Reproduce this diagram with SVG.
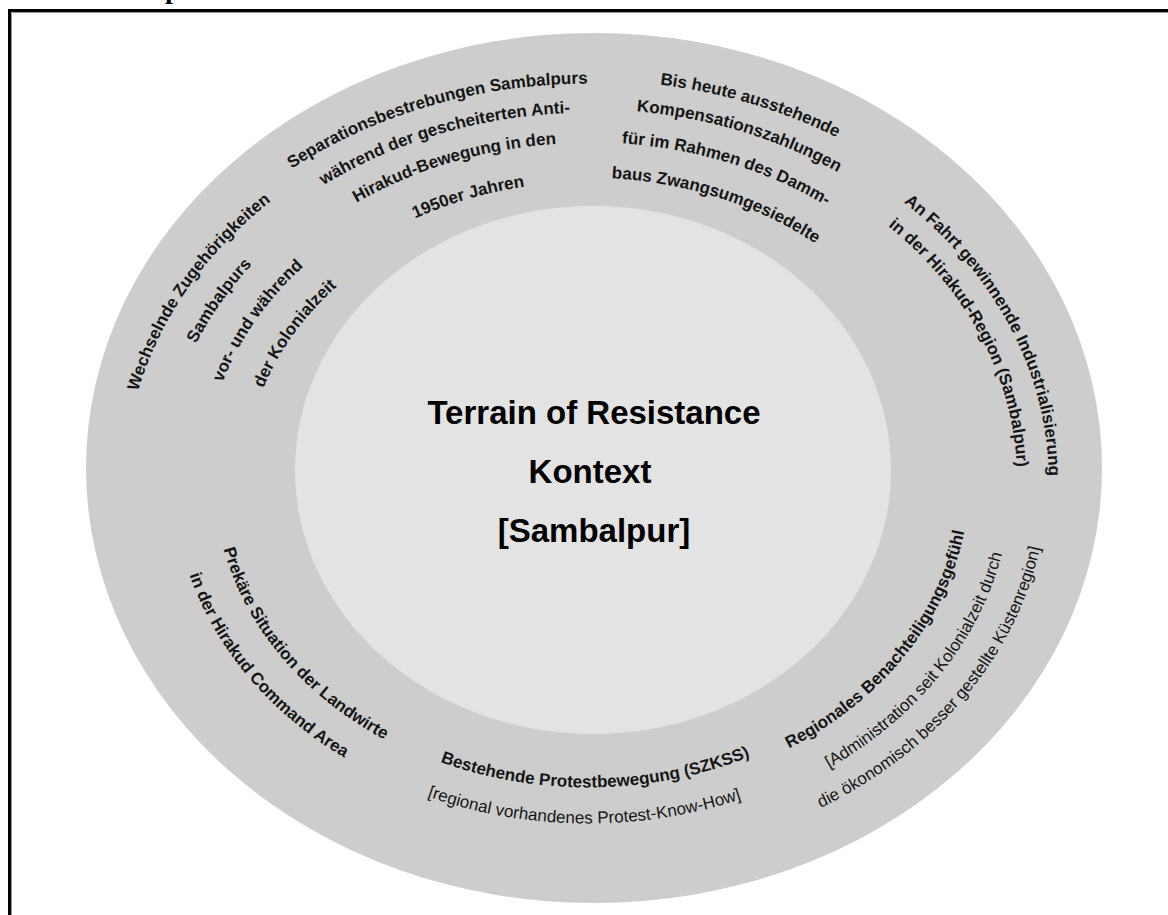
<svg xmlns="http://www.w3.org/2000/svg" width="1168" height="915" viewBox="0 0 1168 915">
<style>
.b{font-family:"Liberation Sans",Arial,sans-serif;font-weight:bold;font-size:17px;fill:#151515}
.r{font-family:"Liberation Sans",Arial,sans-serif;font-size:17px;fill:#151515}
.t{font-family:"Liberation Sans",Arial,sans-serif;font-weight:bold;font-size:33px;fill:#000;text-anchor:middle}
text.c{text-anchor:middle}
</style>
<defs>
<pattern id="dots" width="2" height="2" patternUnits="userSpaceOnUse">
<rect width="2" height="2" fill="#e9e9e9"/><rect width="1" height="1" fill="#dddddd"/><rect x="1" y="1" width="1" height="1" fill="#dddddd"/>
</pattern>
<path id="a1" d="M127.4,447.3 A462.3,382.9 0 0 1 318.2,169.1"/>
<path id="a2" d="M176.6,391.9 A425,351.9 0 0 1 290.1,229"/>
<path id="a3" d="M208.9,429.2 A384,318 0 0 1 341.7,236"/>
<path id="a4" d="M249.4,434.6 A343,284.1 0 0 1 375.4,257"/>
<path id="b1" d="M240.8,207.1 A478.7,396.4 0 0 1 651.3,87.1"/>
<path id="b2" d="M273.4,221.3 A443.4,367.2 0 0 1 632,114.6"/>
<path id="b3" d="M307.8,235.5 A407,337.1 0 0 1 615,143.6"/>
<path id="b4" d="M372.4,241.3 A359.9,298.1 0 0 1 572.9,182.2"/>
<path id="c1" d="M595.6,80.2 A482.8,399.8 0 0 1 892.5,169.8"/>
<path id="c2" d="M577.8,109.1 A448,371 0 0 1 887.2,203.9"/>
<path id="c3" d="M568.1,142.5 A408.1,337.9 0 0 1 870.5,236.1"/>
<path id="c4" d="M563.8,178.4 A365.1,302.3 0 0 1 853.7,272.7"/>
<path id="d1" d="M858.2,171.2 A460.8,381.6 0 0 1 1044.6,531.1"/>
<path id="d2" d="M845,195.5 A429.1,355.3 0 0 1 1014.4,519.6"/>
<path id="g1" d="M744.3,768.1 A381.4,315.9 0 0 0 969.4,482.8"/>
<path id="g2" d="M779.6,792.7 A423.4,350.6 0 0 0 1010.8,499"/>
<path id="g3" d="M764.5,831.1 A459.3,380.3 0 0 0 1047.2,487.3"/>
<path id="f1" d="M394,742.1 A371.2,307.4 0 0 0 795.6,734.8"/>
<path id="f2" d="M381.3,777.7 A414.7,343.4 0 0 0 787.8,780.9"/>
<path id="e1" d="M215.2,502.7 A373.8,309.5 0 0 0 427.1,759.4"/>
<path id="e2" d="M176.8,524.2 A414.7,343.4 0 0 0 390.8,782.1"/>
</defs>
<rect width="1168" height="915" fill="#ffffff"/>
<g id="frame">
<path d="M9.5,915 V10.5 H1168" fill="none" stroke="#000" stroke-width="3"/>
<path d="M11.5,915 V12.5 H1168" fill="none" stroke="#9a9a9a" stroke-width="1"/>
<text x="165" y="-2" style="font-family:'Liberation Serif',serif;font-weight:bold;font-size:28px">p</text>
</g>
<g id="outer-ring">
<ellipse cx="594" cy="468" rx="508" ry="435" fill="#cdcdcd"/>
</g>
<g id="center">
<ellipse cx="593" cy="470" rx="298" ry="264" fill="url(#dots)"/>
<text class="t" x="594" y="424">Terrain of Resistance</text>
<text class="t" x="590" y="483">Kontext</text>
<text class="t" x="594" y="542">[Sambalpur]</text>
</g>
<g id="block-zugehoerigkeit">
<text class="b c"><textPath href="#a1" startOffset="50%">Wechselnde Zugehörigkeiten</textPath></text>
<text class="b c"><textPath href="#a2" startOffset="50%">Sambalpurs</textPath></text>
<text class="b c"><textPath href="#a3" startOffset="50%">vor- und während</textPath></text>
<text class="b c"><textPath href="#a4" startOffset="50%">der Kolonialzeit</textPath></text>
</g>
<g id="block-separation">
<text class="b c"><textPath href="#b1" startOffset="50%">Separationsbestrebungen Sambalpurs</textPath></text>
<text class="b c"><textPath href="#b2" startOffset="50%">während der gescheiterten Anti-</textPath></text>
<text class="b c"><textPath href="#b3" startOffset="50%">Hirakud-Bewegung in den</textPath></text>
<text class="b c"><textPath href="#b4" startOffset="50%">1950er Jahren</textPath></text>
</g>
<g id="block-kompensation">
<text class="b c"><textPath href="#c1" startOffset="50%">Bis heute ausstehende</textPath></text>
<text class="b c"><textPath href="#c2" startOffset="50%">Kompensationszahlungen</textPath></text>
<text class="b c"><textPath href="#c3" startOffset="50%">für im Rahmen des Damm-</textPath></text>
<text class="b c"><textPath href="#c4" startOffset="50%">baus Zwangsumgesiedelte</textPath></text>
</g>
<g id="block-industrialisierung">
<text class="b c"><textPath href="#d1" startOffset="50%">An Fahrt gewinnende Industrialisierung</textPath></text>
<text class="b c"><textPath href="#d2" startOffset="50%">in der Hirakud-Region (Sambalpur)</textPath></text>
</g>
<g id="block-benachteiligung">
<text class="b c"><textPath href="#g1" startOffset="50%">Regionales Benachteiligungsgefühl</textPath></text>
<text class="r c"><textPath href="#g2" startOffset="50%">[Administration seit Kolonialzeit durch</textPath></text>
<text class="r c"><textPath href="#g3" startOffset="50%">die ökonomisch besser gestellte Küstenregion]</textPath></text>
</g>
<g id="block-protest">
<text class="b c"><textPath href="#f1" startOffset="50%">Bestehende Protestbewegung (SZKSS)</textPath></text>
<text class="r c"><textPath href="#f2" startOffset="50%">[regional vorhandenes Protest-Know-How]</textPath></text>
</g>
<g id="block-landwirte">
<text class="b c"><textPath href="#e1" startOffset="50%">Prekäre Situation der Landwirte</textPath></text>
<text class="b c"><textPath href="#e2" startOffset="50%">in der Hirakud Command Area</textPath></text>
</g>
</svg>
